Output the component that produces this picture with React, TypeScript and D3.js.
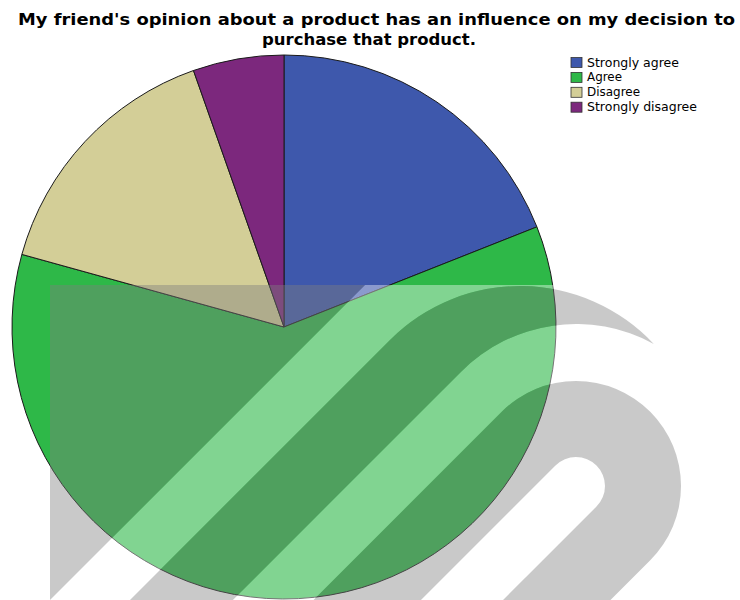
import React from "react";
import * as d3 from "d3";

const categories = ["Strongly agree", "Agree", "Disagree", "Strongly disagree"];
const values = [19.0, 60.3, 15.3, 5.4];
const colors = ["#3E58AC", "#2EB848", "#D3CE97", "#7C287D"];
const titleLines = [
  "My friend's opinion about a product has an influence on my decision to",
  "purchase that product.",
];

const W = 740;
const H = 600;
const CX = 284;
const CY = 327;
const R = 272;

// watermark geometry (decorative overlay)
const S2 = Math.SQRT1_2;
const C1: [number, number] = [520, 469.5];
const R1 = 183.5;
const C2: [number, number] = [576, 486];
const R2 = 162;
const RD_OUT = 105;
const RD_IN = 29;
const FAR = 800;

function circleIntersectUpper(c1: [number, number], r1: number, c2: [number, number], r2: number): [number, number] {
  const dx = c2[0] - c1[0];
  const dy = c2[1] - c1[1];
  const d = Math.hypot(dx, dy);
  const a = (r1 * r1 - r2 * r2 + d * d) / (2 * d);
  const h = Math.sqrt(r1 * r1 - a * a);
  const px = c1[0] + (a * dx) / d;
  const py = c1[1] + (a * dy) / d;
  const p1: [number, number] = [px - (h * dy) / d, py + (h * dx) / d];
  const p2: [number, number] = [px + (h * dy) / d, py - (h * dx) / d];
  return p1[1] < p2[1] ? p1 : p2;
}

function watermarkPaths() {
  const left = `M -400 285 L ${650 - 285} 285 L ${650 - 1200} 1200 L -400 1200 Z`;
  const T1 = [C1[0] - R1 * S2, C1[1] - R1 * S2];
  const T2 = [C2[0] - R2 * S2, C2[1] - R2 * S2];
  const tip = circleIntersectUpper(C1, R1, C2, R2);
  const bandB =
    `M ${T1[0] - FAR} ${T1[1] + FAR} L ${T1[0]} ${T1[1]} ` +
    `A ${R1} ${R1} 0 0 1 ${tip[0]} ${tip[1]} ` +
    `A ${R2} ${R2} 0 0 0 ${T2[0]} ${T2[1]} ` +
    `L ${T2[0] - FAR} ${T2[1] + FAR} Z`;
  const capsule = (r: number) => {
    const A = [C2[0] - r * S2, C2[1] - r * S2];
    const B = [C2[0] + r * S2, C2[1] + r * S2];
    return (
      `M ${A[0] - FAR} ${A[1] + FAR} L ${A[0]} ${A[1]} ` +
      `A ${r} ${r} 0 0 1 ${B[0]} ${B[1]} L ${B[0] - FAR} ${B[1] + FAR} Z`
    );
  };
  const bandD = capsule(RD_OUT) + " " + capsule(RD_IN);
  return { left, bandB, bandD };
}

export default function App() {
  const pie = d3.pie<number>().sort(null).value((d) => d)(values);
  const arc = d3.arc<d3.PieArcDatum<number>>().innerRadius(0).outerRadius(R);
  const wm = watermarkPaths();

  const legendX = 571;
  const legendY0 = 62.5;
  const legendStep = 14.9;
  const legendWidths = [92, 35, 53, 110];

  return (
    <svg
      width={W}
      height={H}
      viewBox={`0 0 ${W} ${H}`}
      style={{ position: "absolute", left: 0, top: 0, background: "#fff" }}
    >
      <defs>
        <clipPath id="wmClip">
          <rect x={50} y={285} width={W - 50} height={H - 285} />
        </clipPath>
        <mask id="notGray" maskUnits="userSpaceOnUse" x={0} y={0} width={W} height={H}>
          <rect x={0} y={0} width={W} height={H} fill="#fff" />
          <path d={wm.left} fill="#000" />
          <path d={wm.bandB} fill="#000" />
          <path d={wm.bandD} fill="#000" fillRule="evenodd" />
        </mask>
      </defs>
      <rect x={0} y={0} width={W} height={H} fill="#fff" />

      <g transform={`translate(${CX},${CY})`}>
        {pie.map((p, i) => (
          <path key={i} d={arc(p) || ""} fill={colors[i]} stroke="#1a1a1a" strokeWidth={1} strokeLinejoin="round" />
        ))}
      </g>

      <g fontFamily="'DejaVu Sans', sans-serif" fontWeight="bold" fontSize={16.5} fill="#000" textAnchor="middle">
        <text x={376.5} y={25} textLength={717} lengthAdjust="spacingAndGlyphs">
          {titleLines[0]}
        </text>
        <text x={369} y={45} textLength={214} lengthAdjust="spacingAndGlyphs">
          {titleLines[1]}
        </text>
      </g>

      <g fontFamily="'DejaVu Sans', sans-serif" fontSize={11.5} fill="#000">
        {categories.map((c, i) => {
          const cy = legendY0 + i * legendStep;
          return (
            <g key={c}>
              <rect x={legendX} y={cy - 5} width={11} height={10} fill={colors[i]} stroke="#333" strokeWidth={0.8} />
              <text x={587} y={cy + 4} textLength={legendWidths[i]} lengthAdjust="spacingAndGlyphs">
                {c}
              </text>
            </g>
          );
        })}
      </g>

      <g clipPath="url(#wmClip)">
        <rect x={0} y={0} width={W} height={H} fill="#fff" fillOpacity={0.4} mask="url(#notGray)" />
        <path d={wm.left} fill="rgb(127,127,127)" fillOpacity={0.42} />
        <path d={wm.bandB} fill="rgb(127,127,127)" fillOpacity={0.42} />
        <path d={wm.bandD} fill="rgb(127,127,127)" fillOpacity={0.42} fillRule="evenodd" />
      </g>
    </svg>
  );
}
